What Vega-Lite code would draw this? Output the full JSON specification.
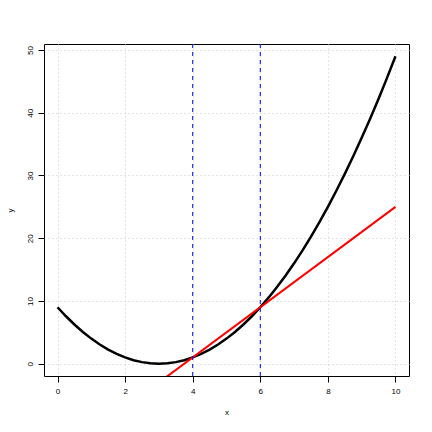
{
  "$schema": "https://vega.github.io/schema/vega-lite/v6.json",
  "width": 365,
  "height": 332,
  "autosize": "none",
  "padding": {"left": 44, "top": 44, "right": 23, "bottom": 56},
  "background": "white",
  "config": {
    "view": {"stroke": "black", "strokeWidth": 1},
    "font": "Liberation Sans",
    "axis": {
      "domain": false,
      "grid": true,
      "gridColor": "#c8c8c8",
      "gridDash": [1, 3],
      "gridWidth": 1,
      "tickColor": "black",
      "tickSize": 6,
      "tickWidth": 1,
      "labelFontSize": 8,
      "labelColor": "black",
      "titleFontSize": 8,
      "titleFontWeight": "normal",
      "titleColor": "black"
    }
  },
  "layer": [
    {
      "data": {"values": [
        {"x": 0, "y": 9}, {"x": 0.25, "y": 7.5625}, {"x": 0.5, "y": 6.25}, {"x": 0.75, "y": 5.0625},
        {"x": 1, "y": 4}, {"x": 1.25, "y": 3.0625}, {"x": 1.5, "y": 2.25}, {"x": 1.75, "y": 1.5625},
        {"x": 2, "y": 1}, {"x": 2.25, "y": 0.5625}, {"x": 2.5, "y": 0.25}, {"x": 2.75, "y": 0.0625},
        {"x": 3, "y": 0}, {"x": 3.25, "y": 0.0625}, {"x": 3.5, "y": 0.25}, {"x": 3.75, "y": 0.5625},
        {"x": 4, "y": 1}, {"x": 4.25, "y": 1.5625}, {"x": 4.5, "y": 2.25}, {"x": 4.75, "y": 3.0625},
        {"x": 5, "y": 4}, {"x": 5.25, "y": 5.0625}, {"x": 5.5, "y": 6.25}, {"x": 5.75, "y": 7.5625},
        {"x": 6, "y": 9}, {"x": 6.25, "y": 10.5625}, {"x": 6.5, "y": 12.25}, {"x": 6.75, "y": 14.0625},
        {"x": 7, "y": 16}, {"x": 7.25, "y": 18.0625}, {"x": 7.5, "y": 20.25}, {"x": 7.75, "y": 22.5625},
        {"x": 8, "y": 25}, {"x": 8.25, "y": 27.5625}, {"x": 8.5, "y": 30.25}, {"x": 8.75, "y": 33.0625},
        {"x": 9, "y": 36}, {"x": 9.25, "y": 39.0625}, {"x": 9.5, "y": 42.25}, {"x": 9.75, "y": 45.5625},
        {"x": 10, "y": 49}
      ]},
      "mark": {"type": "line", "color": "black", "strokeWidth": 2.5, "clip": true},
      "encoding": {
        "x": {"field": "x", "type": "quantitative",
              "scale": {"domain": [-0.4, 10.4], "nice": false, "zero": false},
              "axis": {"values": [0, 2, 4, 6, 8, 10], "title": "x", "labelPadding": 5, "titlePadding": 13}},
        "y": {"field": "y", "type": "quantitative",
              "scale": {"domain": [-1.96, 50.96], "nice": false, "zero": false},
              "axis": {"values": [0, 10, 20, 30, 40, 50], "title": "y", "labelAngle": -90, "labelAlign": "center", "labelBaseline": "bottom", "labelPadding": 4, "titlePadding": 12}}
      }
    },
    {
      "data": {"values": [{"x": 3, "y": -3}, {"x": 10, "y": 25}]},
      "mark": {"type": "line", "color": "red", "strokeWidth": 2, "clip": true},
      "encoding": {
        "x": {"field": "x", "type": "quantitative"},
        "y": {"field": "y", "type": "quantitative"}
      }
    },
    {
      "data": {"values": [{"x": 4}, {"x": 6}]},
      "mark": {"type": "rule", "color": "blue", "strokeWidth": 1, "strokeDash": [4, 4]},
      "encoding": {
        "x": {"field": "x", "type": "quantitative"}
      }
    }
  ]
}
